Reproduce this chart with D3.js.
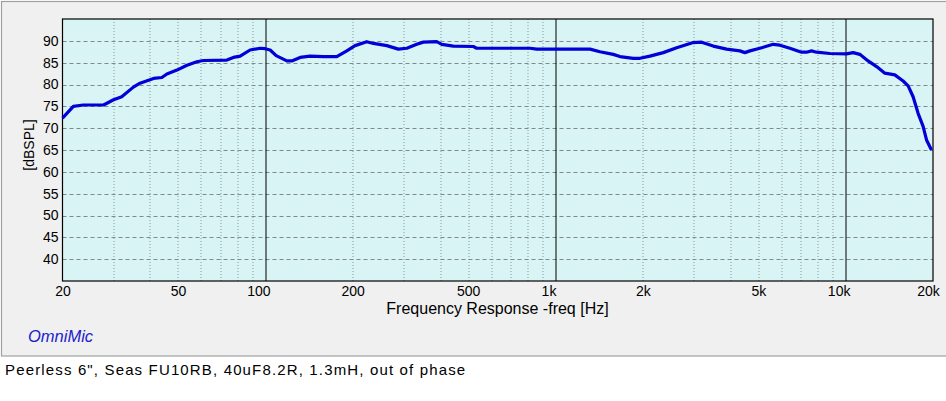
<!DOCTYPE html>
<html>
<head>
<meta charset="utf-8">
<script src="https://cdn.jsdelivr.net/npm/d3@7"></script>
<style>
  body { margin: 0; background: #fff; }
  text { font-family: Arial, "Liberation Sans", sans-serif; }
</style>
</head>
<body>
<div id="chart"></div>
<script>
// frequency response
var freqHz = [20, 21.8, 23.6, 27.7, 30, 32, 35.1, 37, 41.2, 44, 45.8, 49.6, 53.7, 58.1, 61.2, 73.7, 77.6, 81.9,
    88.6, 95.9, 99.8, 103.9, 109, 118.6, 123.4, 131.8, 142.7, 158.6, 176.3, 190.9, 203.8, 223.6, 235.8, 262.2,
    287.4, 307.4, 332.6, 350.4, 389.8, 405.6, 444.6, 521, 535, 644, 817, 862, 1315, 1423, 1581, 1668, 1854,
    1955, 2116, 2352, 2616, 2984, 3189, 3497, 3888, 4320, 4494, 4676, 5064, 5627, 5934, 6423, 7048, 7333,
    7630, 7937, 8821, 10070, 10610, 11190, 11950, 12780, 13650, 14770, 15780, 16420, 17080, 17770, 18490,
    19000, 19760];
var splDb = [72.3, 75.0, 75.3, 75.3, 76.5, 77.2, 79.4, 80.3, 81.4, 81.6, 82.4, 83.3, 84.4, 85.2, 85.5, 85.6, 86.2, 86.5,
    87.9, 88.3, 88.2, 87.9, 86.6, 85.4, 85.4, 86.2, 86.5, 86.4, 86.4, 87.7, 88.9, 89.8, 89.4, 88.9,
    88.1, 88.3, 89.2, 89.7, 89.8, 89.2, 88.8, 88.7, 88.3, 88.3, 88.3, 88.1, 88.1, 87.5, 86.9, 86.4, 86.0,
    86.0, 86.5, 87.3, 88.4, 89.6, 89.7, 88.8, 88.1, 87.7, 87.3, 87.7, 88.3, 89.2, 89.0, 88.3, 87.4, 87.4,
    87.7, 87.4, 87.1, 87.0, 87.3, 86.9, 85.4, 84.1, 82.6, 82.2, 80.8, 79.7, 77.2, 73.4, 70.4,
    67.3, 65.0];

var xTickValues = [20, 50, 100, 200, 500, 1000, 2000, 5000, 10000, 20000];
var xTickLabels = ["20", "50", "100", "200", "500", "1k", "2k", "5k", "10k", "20k"];
var decadeLines = [100, 1000, 10000];
var minorLines = [30, 40, 50, 60, 70, 80, 90, 200, 300, 400, 500, 600, 700, 800, 900,
    2000, 3000, 4000, 5000, 6000, 7000, 8000, 9000];
var yTickValues = [40, 45, 50, 55, 60, 65, 70, 75, 80, 85, 90];

var svgWidth = 946;
var svgHeight = 401;

var margin = { top: 19, right: 13, bottom: 120, left: 62.5 };
var chartWidth = svgWidth - margin.left - margin.right;
var chartHeight = svgHeight - margin.top - margin.bottom;

var svg = d3.select("#chart")
    .append("svg")
    .attr("width", svgWidth)
    .attr("height", svgHeight);

// grey panel behind the plot
svg.append("rect")
    .attr("x", 1.5)
    .attr("y", 1.5)
    .attr("width", svgWidth)
    .attr("height", 354.5)
    .attr("fill", "#f0f0f0")
    .attr("stroke", "#a0a0a0")
    .attr("stroke-width", 1.2);

var chartGroup = svg.append("g")
    .attr("transform", `translate(${margin.left}, ${margin.top})`);

var xScale = d3.scaleLog()
    .domain([20, 20000])
    .range([0, chartWidth]);

var yScale = d3.scaleLinear()
    .domain([35, 95])
    .range([chartHeight, 0]);

chartGroup.append("rect")
    .attr("width", chartWidth)
    .attr("height", chartHeight)
    .attr("fill", "#d8f4f4");

// dotted minor verticals
chartGroup.selectAll(".minor")
    .data(minorLines)
    .enter()
    .append("line")
    .attr("x1", d => Math.round(xScale(d)) + 0.5)
    .attr("x2", d => Math.round(xScale(d)) + 0.5)
    .attr("y1", 0)
    .attr("y2", chartHeight)
    .attr("stroke", "#8a9a9a")
    .attr("stroke-dasharray", "1,2");

// dashed horizontals
chartGroup.selectAll(".hgrid")
    .data(yTickValues)
    .enter()
    .append("line")
    .attr("x1", 0)
    .attr("x2", chartWidth)
    .attr("y1", d => Math.round(yScale(d)) + 0.5)
    .attr("y2", d => Math.round(yScale(d)) + 0.5)
    .attr("stroke", "#7f8a8a")
    .attr("stroke-dasharray", "4,3");

// solid decade lines
chartGroup.selectAll(".decade")
    .data(decadeLines)
    .enter()
    .append("line")
    .attr("x1", d => Math.round(xScale(d)) + 0.5)
    .attr("x2", d => Math.round(xScale(d)) + 0.5)
    .attr("y1", 0)
    .attr("y2", chartHeight)
    .attr("stroke", "#000");

chartGroup.append("rect")
    .attr("width", chartWidth)
    .attr("height", chartHeight)
    .attr("fill", "none")
    .attr("stroke", "#000")
    .attr("stroke-width", 1.2);

var line = d3.line()
    .x((d, i) => xScale(freqHz[i]))
    .y(d => yScale(d));

chartGroup.append("path")
    .datum(splDb)
    .attr("d", line)
    .attr("fill", "none")
    .attr("stroke", "#0000d8")
    .attr("stroke-width", 3.2)
    .attr("stroke-linejoin", "round");

var bottomAxis = d3.axisBottom(xScale)
    .tickValues(xTickValues)
    .tickSize(0)
    .tickPadding(5)
    .tickFormat((d, i) => xTickLabels[i]);

var xAxisG = chartGroup.append("g")
    .attr("transform", `translate(0, ${chartHeight})`)
    .call(bottomAxis);
xAxisG.select(".domain").remove();
xAxisG.selectAll("text")
    .attr("font-size", 14)
    .attr("fill", "#000")
    .attr("dx", d => decadeLines.indexOf(d) >= 0 ? -7 : (d === 20000 ? -5 : 0));

var leftAxis = d3.axisLeft(yScale)
    .tickValues(yTickValues)
    .tickSize(0)
    .tickPadding(4);

var yAxisG = chartGroup.append("g")
    .call(leftAxis);
yAxisG.select(".domain").remove();
yAxisG.selectAll("text")
    .attr("font-size", 14)
    .attr("fill", "#000");

chartGroup.append("text")
    .attr("transform", "rotate(-90)")
    .attr("x", -126)
    .attr("y", -29)
    .attr("text-anchor", "middle")
    .attr("font-size", 14)
    .text("[dBSPL]");

chartGroup.append("text")
    .attr("x", 435)
    .attr("y", 295)
    .attr("text-anchor", "middle")
    .attr("font-size", 16)
    .text("Frequency Response -freq [Hz]");

svg.append("text")
    .attr("x", 28)
    .attr("y", 342)
    .attr("font-size", 16.5)
    .attr("font-style", "italic")
    .attr("fill", "#2222cc")
    .text("OmniMic");

svg.append("text")
    .attr("x", 5)
    .attr("y", 375)
    .attr("font-size", 15)
    .attr("letter-spacing", 1.15)
    .text("Peerless 6\", Seas FU10RB, 40uF8.2R, 1.3mH, out of phase");
</script>
</body>
</html>
